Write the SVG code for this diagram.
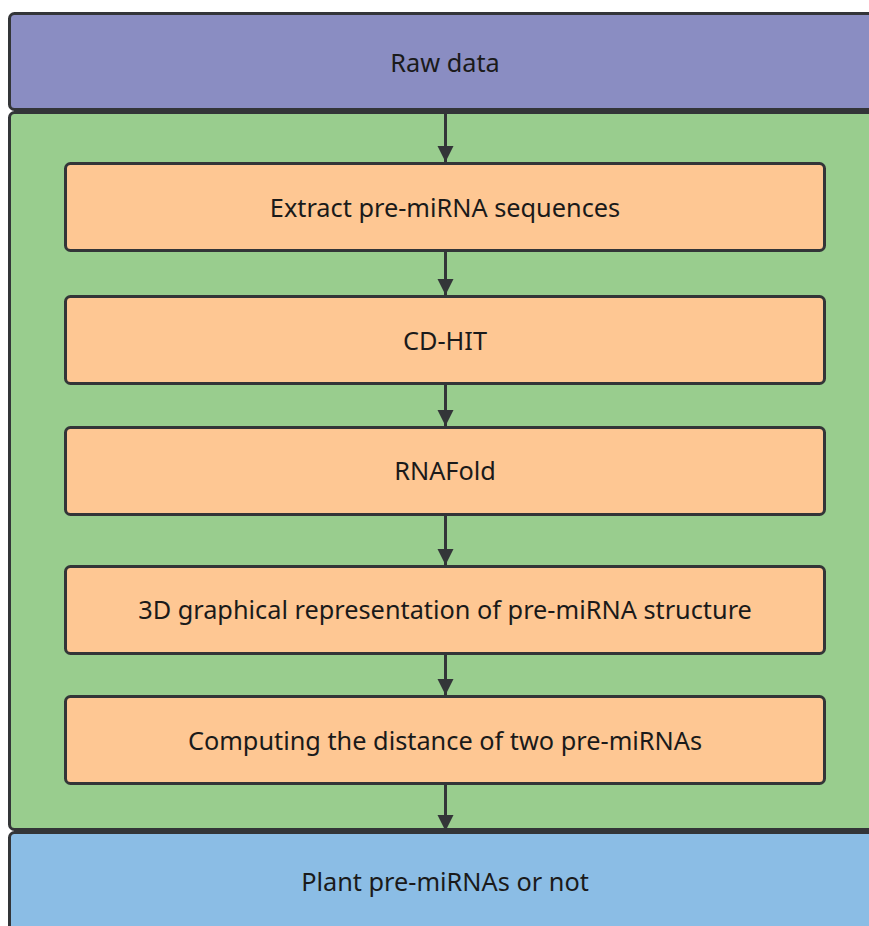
<svg xmlns="http://www.w3.org/2000/svg" width="869" height="926" viewBox="0 0 869 926">
<defs>
<style>
.box{stroke:#333538;stroke-width:3}
.step{fill:#FEC793}
.t{font-family:"Noto Sans","Open Sans","Liberation Sans",sans-serif;font-size:25.3px;fill:#1a1a1a;text-anchor:middle;dominant-baseline:central}
.c{stroke:#333538;stroke-width:3;fill:none;marker-end:url(#ah)}
</style>
<marker id="ah" viewBox="0 0 16 20" refX="16" refY="10" markerWidth="16" markerHeight="20" markerUnits="userSpaceOnUse" orient="auto">
<path d="M0,2 L16,10 L0,18 Z" fill="#333538"/>
</marker>
</defs>
<rect width="869" height="926" fill="#ffffff"/>
<g id="raw">
<rect class="box" x="9.5" y="13.5" width="880" height="96" rx="5" fill="#8A8DC2"/>
<text class="t" x="445" y="62">Raw data</text>
</g>
<g id="container">
<rect class="box" x="9.5" y="112.5" width="880" height="717" rx="5" fill="#99CD8E"/>
</g>
<g id="plant">
<rect class="box" x="9.5" y="832.5" width="880" height="120" rx="5" fill="#8BBDE5"/>
<text class="t" x="445" y="881">Plant pre-miRNAs or not</text>
</g>
<g id="extract">
<rect class="box step" x="65.5" y="163.5" width="759" height="87" rx="5"/>
<text class="t" x="445" y="207">Extract pre-miRNA sequences</text>
</g>
<g id="cdhit">
<rect class="box step" x="65.5" y="296.5" width="759" height="87" rx="5"/>
<text class="t" x="445" y="340">CD-HIT</text>
</g>
<g id="rnafold">
<rect class="box step" x="65.5" y="427.5" width="759" height="87" rx="5"/>
<text class="t" x="445" y="470">RNAFold</text>
</g>
<g id="graphical">
<rect class="box step" x="65.5" y="566.5" width="759" height="87" rx="5"/>
<text class="t" x="445" y="609">3D graphical representation of pre-miRNA structure</text>
</g>
<g id="distance">
<rect class="box step" x="65.5" y="696.5" width="759" height="87" rx="5"/>
<text class="t" x="445" y="740">Computing the distance of two pre-miRNAs</text>
</g>
<g id="connectors">
<line class="c" x1="445.5" y1="111" x2="445.5" y2="162"/>
<line class="c" x1="445.5" y1="252" x2="445.5" y2="295"/>
<line class="c" x1="445.5" y1="385" x2="445.5" y2="426"/>
<line class="c" x1="445.5" y1="516" x2="445.5" y2="565"/>
<line class="c" x1="445.5" y1="655" x2="445.5" y2="695"/>
<line class="c" x1="445.5" y1="785" x2="445.5" y2="831"/>
</g>
</svg>
